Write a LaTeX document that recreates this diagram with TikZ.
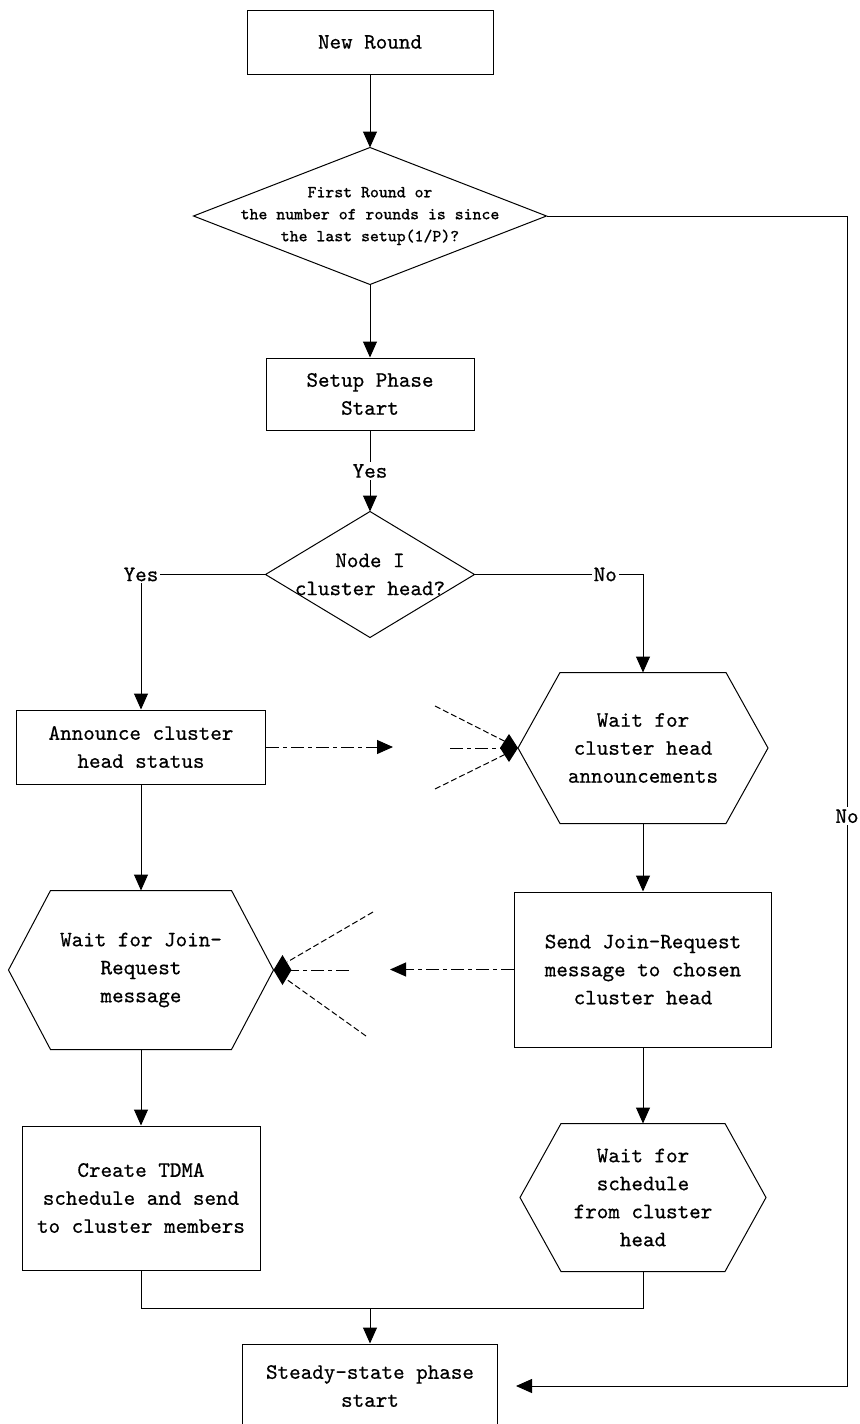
\documentclass[tikz,border=0pt]{standalone}
\usepackage{fontspec}
\usetikzlibrary{arrows.meta}

\newfontfamily\flowfont[FakeBold=0.6]{Latin Modern Mono}

% outlines drawn around invisible rectangular nodes
\newcommand\hexoutline[2]{%
  \draw (#1.west) -- ([xshift=#2]#1.north west) -- ([xshift=-#2]#1.north east)
        -- (#1.east) -- ([xshift=-#2]#1.south east) -- ([xshift=#2]#1.south west) -- cycle;}
\newcommand\rhombusoutline[1]{%
  \draw (#1.north) -- (#1.east) -- (#1.south) -- (#1.west) -- cycle;}

\tikzset{
  txt/.style={font=\flowfont\fontsize{11pt}{14pt}\selectfont, align=center, inner sep=0pt},
  stepbox/.style={txt, draw, rectangle},
  frame/.style={txt, rectangle},
  arr/.style={-{Triangle[length=8pt,width=7pt]}},
  dashdot/.style={dash pattern=on 6.5pt off 2pt on 2pt off 2pt},
  fan/.style={dash pattern=on 3pt off 1.5pt},
  kite/.style={-{Diamond[length=9pt,width=14pt]}},
  lbl/.style={font=\flowfont\fontsize{11pt}{14pt}\selectfont, fill=white, inner sep=1pt},
}

\begin{document}
\begin{tikzpicture}[x=0.5pt,y=-0.5pt,line width=0.5pt]
\useasboundingbox (0,0) rectangle (860,1424);
\clip (0,0) rectangle (860,1424);

% ---- nodes ----
\node[stepbox, minimum width=123pt, minimum height=32pt] (nr) at (370,42) {New Round};

\node[frame, minimum width=176pt, minimum height=68pt,
      font=\flowfont\fontsize{8.4pt}{11pt}\selectfont] (d1) at (370,216)
  {First Round or\\the number of rounds is since\\the last setup(1/P)?};
\rhombusoutline{d1}

\node[stepbox, minimum width=104pt, minimum height=36pt] (sp) at (370,394) {Setup Phase\\Start};

\node[frame, minimum width=104pt, minimum height=62.5pt] (d2) at (370,574.5) {Node I\\cluster head?};
\rhombusoutline{d2}

\node[stepbox, minimum width=124.5pt, minimum height=37pt] (ann) at (141,747) {Announce cluster\\head status};

\node[frame, minimum width=124.5pt, minimum height=75pt] (h1) at (643,748) {Wait for\\cluster head\\announcements};
\hexoutline{h1}{21pt}

\node[stepbox, minimum width=128.5pt, minimum height=77.5pt] (send) at (643,969.5)
  {Send Join-Request\\message to chosen\\cluster head};

\node[frame, minimum width=132pt, minimum height=79pt] (h2) at (141,970) {Wait for Join-\\Request\\message};
\hexoutline{h2}{21pt}

\node[stepbox, minimum width=119pt, minimum height=72pt] (tdma) at (141,1198)
  {Create TDMA\\schedule and send\\to cluster members};

\node[frame, minimum width=122.5pt, minimum height=73.5pt] (h3) at (643,1197.5)
  {Wait for\\schedule\\from cluster\\head};
\hexoutline{h3}{20.5pt}

\node[stepbox, minimum width=127.5pt, minimum height=42pt] (ss) at (370,1386) {Steady-state phase\\start};

% ---- main flow ----
\draw[arr] (nr) -- (d1.north);
\draw[arr] (d1.south) -- (sp.north);
\draw[arr] (sp.south) -- node[lbl]{Yes} (d2.north);
\draw[arr] (d2.west) -| node[lbl, pos=0.5]{Yes} (ann.north);
\draw[arr] (d2.east) -| node[lbl, pos=0.388]{No} (h1.north);
\draw[arr] (ann.south) -- (h2.north);
\draw[arr] (h1.south) -- (send.north);
\draw[arr] (h2.south) -- (tdma.north);
\draw[arr] (send.south) -- (h3.north);

\coordinate (m) at (370,1308);
\draw (tdma.south) |- (m);
\draw (h3.south) |- (m);
\draw[arr] (m) -- (ss.north);

\coordinate (rc) at (847,216);
\draw[arr, shorten >=9pt] (d1.east) -- (rc) -- node[lbl, pos=0.513]{No} (rc |- ss.east) -- (ss.east);

% ---- messages between the two columns ----
\coordinate (a1) at (393,747);
\draw[dashdot, arr] (ann.east) -- (a1);
\coordinate (f1) at (435,706);
\coordinate (f2) at (450,748);
\coordinate (f3) at (435,789);
\draw[fan, shorten >=6.5pt] (f1) -- (h1.west);
\draw[fan, shorten >=6.5pt] (f3) -- (h1.west);
\draw[dashdot, kite] (f2) -- (h1.west);

\coordinate (a2) at (390,969.5);
\draw[dashdot, arr] (send.west) -- (a2);
\coordinate (g1) at (373,912);
\coordinate (g2) at (349,970);
\coordinate (g3) at (366,1036);
\draw[fan, shorten >=8pt] (g1) -- (h2.east);
\draw[fan, shorten >=8pt] (g3) -- (h2.east);
\draw[dashdot, -{Diamond[length=9pt,width=15pt]}] (g2) -- (h2.east);
\end{tikzpicture}
\end{document}
